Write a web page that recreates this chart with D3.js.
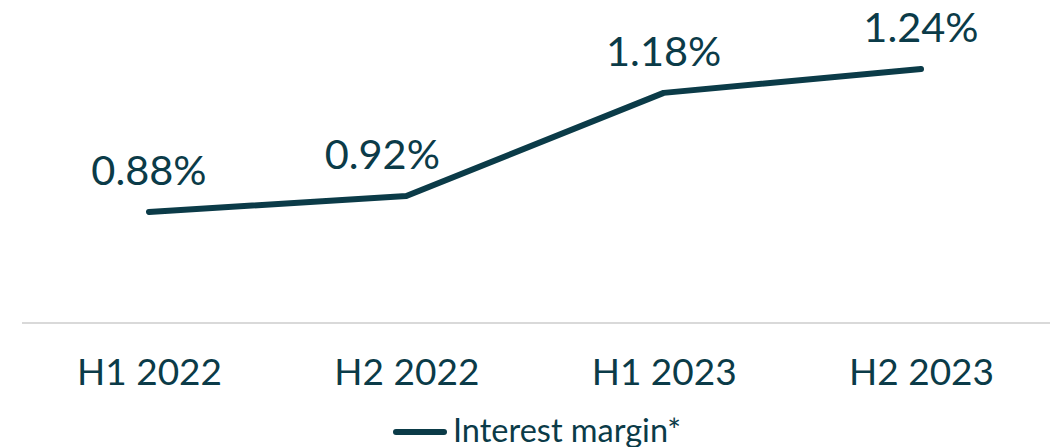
<!DOCTYPE html>
<html><head><meta charset="utf-8">
<script src="https://cdn.jsdelivr.net/npm/d3@7"></script>
<style>body{margin:0;background:#fff;}svg{display:block;font-family:Lato,sans-serif;}</style>
</head><body>
<svg id="c" width="1056" height="447"></svg>
<script>
const categories = ["H1 2022","H2 2022","H1 2023","H2 2023"];
const values = [0.88, 0.92, 1.18, 1.24];
const labelShift = [0, -24, 0, 0];
const seriesName = "Interest margin*";
const color = "#0b3b48";

const svg = d3.select("#c");
const x = d3.scalePoint().domain(categories).range([149, 921]);
const y = d3.scaleLinear().domain([0.6, 1.4]).range([323, 5.6]);

svg.append("line").attr("x1",22).attr("x2",1050).attr("y1",323).attr("y2",323)
  .attr("stroke","#d9d9d9").attr("stroke-width",2);

const xa = svg.append("g").attr("transform","translate(0,323)")
  .call(d3.axisBottom(x).tickSize(0).tickPadding(36));
xa.select(".domain").remove();
xa.selectAll("text").attr("font-size",37).attr("fill",color).attr("font-family","Lato");

const line = d3.line().x((d,i)=>x(categories[i])).y(d=>y(d));
svg.append("path").datum(values).attr("d",line).attr("fill","none")
  .attr("stroke",color).attr("stroke-width",6).attr("stroke-linecap","round").attr("stroke-linejoin","round");

svg.selectAll(".lbl").data(values).join("text").attr("class","lbl")
  .attr("x",(d,i)=>x(categories[i])+labelShift[i]).attr("y",d=>y(d)-27)
  .attr("text-anchor","middle").attr("font-size",41.5).attr("fill",color)
  .text(d=>d.toFixed(2)+"%");

const lg = svg.append("g");
lg.append("line").attr("x1",396).attr("x2",444).attr("y1",432).attr("y2",432)
  .attr("stroke",color).attr("stroke-width",6).attr("stroke-linecap","round");
lg.append("text").attr("x",453).attr("y",442).attr("font-size",32.5).attr("fill",color).text(seriesName);
</script>
</body></html>
